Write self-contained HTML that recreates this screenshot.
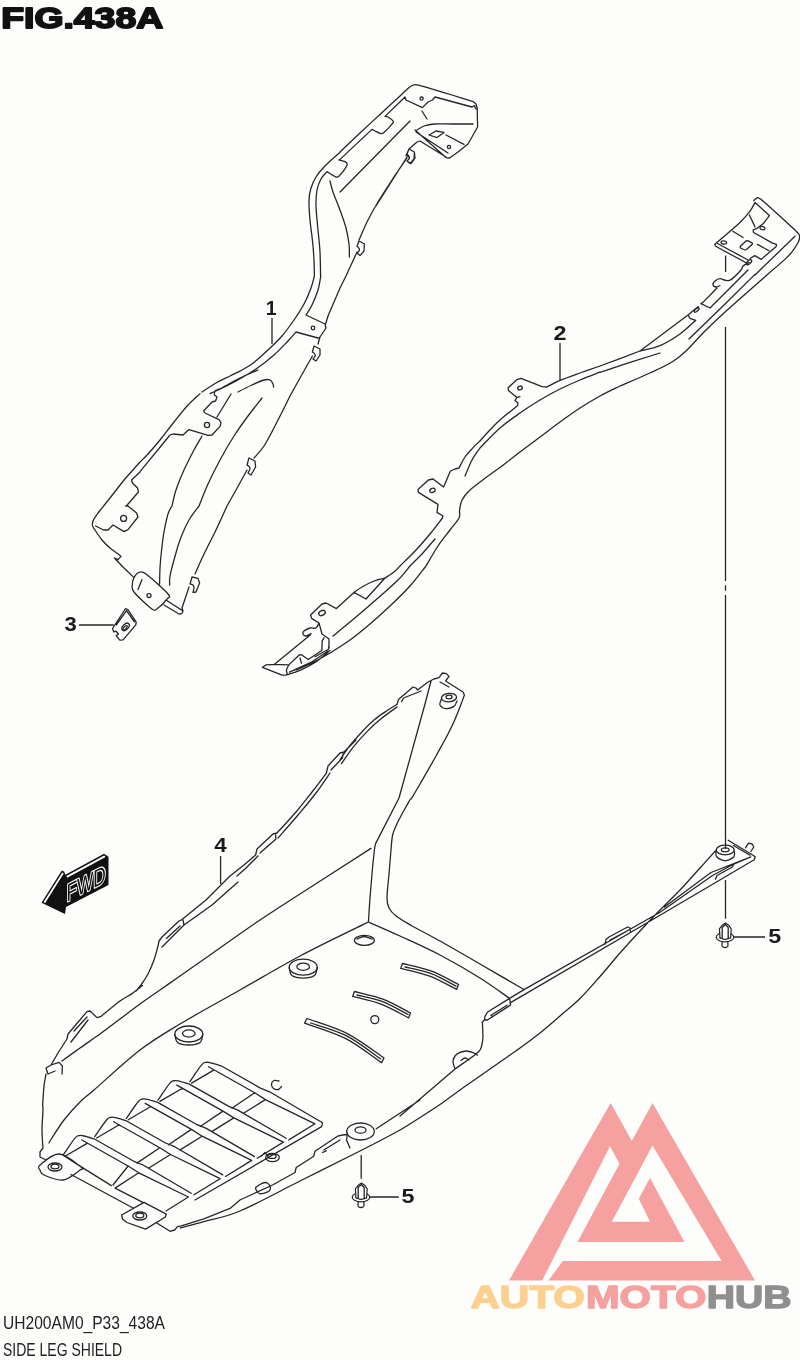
<!DOCTYPE html>
<html><head><meta charset="utf-8">
<style>
html,body{margin:0;padding:0;background:#fdfefc;}
svg{display:block;}
text{font-family:"Liberation Sans",sans-serif;}
.l{fill:none;stroke:#262626;stroke-width:1.3;stroke-linecap:round;stroke-linejoin:round;}
.w{fill:#fdfefc;stroke:#262626;stroke-width:1.2;stroke-linecap:round;stroke-linejoin:round;}
.t{fill:none;stroke:#262626;stroke-width:1.3;stroke-linecap:butt;stroke-linejoin:round;}
.n{font-weight:bold;font-size:16.5px;fill:#222;}
</style></head>
<body>
<svg width="800" height="1360" viewBox="0 0 800 1360" style="will-change:transform">
<rect width="800" height="1360" fill="#fdfefc"/>
<!-- LOGO -->
<g id="logo">
<path fill="#f4a19f" d="M610.7 1103 L631.8 1141 L652.5 1103 L755 1280.5 L548.4 1280.5 L562.8 1261 L721.6 1261 L652.5 1145.5 L611.8 1221.8 L650 1221.8 L638.8 1198.8 L650 1178 L684.5 1242 L577.5 1242 L619.5 1163.8 L610 1146.3 L542.2 1280.5 L509 1280.5 Z"/>
<g font-weight="bold" font-size="31.3" stroke-width="1.4" stroke-linejoin="round">
<text x="470.5" y="1308" textLength="114.5" lengthAdjust="spacingAndGlyphs" fill="#fcd08e" stroke="#fcd08e">AUTO</text>
<text x="585.9" y="1308" textLength="120.5" lengthAdjust="spacingAndGlyphs" fill="#f4a19f" stroke="#f4a19f">MOTO</text>
<text x="706.7" y="1308" textLength="84.8" lengthAdjust="spacingAndGlyphs" fill="#8f8f8f" stroke="#8f8f8f">HUB</text>
</g>
</g>
<!-- TITLE -->
<text x="1.2" y="27.8" font-weight="bold" font-size="29" textLength="162" lengthAdjust="spacingAndGlyphs" fill="#111" stroke="#111" stroke-width="1.8" stroke-linejoin="round">FIG.438A</text>
<!-- BOTTOM TEXT -->
<text x="3" y="1329.3" font-size="18" textLength="162" lengthAdjust="spacingAndGlyphs" fill="#222">UH200AM0_P33_438A</text>
<text x="3" y="1355.5" font-size="18" textLength="119" lengthAdjust="spacingAndGlyphs" fill="#222">SIDE LEG SHIELD</text>
<!-- FWD -->
<g id="fwd">
<path fill="#111" d="M41.5 902.8 L61.8 870.6 L64.3 871.8 L65.3 874.8 L104 853.8 L108.5 856.8 L108.5 885 L66 907 L65 914 Z"/>
<path fill="#fff" d="M43.6 901.9 L62.3 872.4 L63.7 873.4 L45 903.2 Z M66.3 876 L104.2 855.4 L105.6 856.9 L67.3 877.7 Z"/>
<text transform="matrix(1,-0.513,0,1,66.4,902)" x="0" y="0" font-size="24.5" textLength="39.5" lengthAdjust="spacingAndGlyphs" fill="#111" stroke="#fff" stroke-width="2.4" paint-order="stroke" stroke-linejoin="round">FWD</text>
</g>
<!-- PARTS -->
<g id="p1">
<circle class="l" cx="421.6" cy="98.6" r="1.6"/>
<circle class="l" cx="449.0" cy="147.0" r="1.6"/>
<circle class="l" cx="313.0" cy="328.0" r="1.8"/>
<circle class="l" cx="207.0" cy="425.0" r="2.6"/>
<circle class="l" cx="123.6" cy="518.4" r="3.0"/>
<circle class="l" cx="149.0" cy="595.6" r="2.0"/>
<path class="l" d="M340.0 152.0 C343.3 148.8 353.3 139.3 360.0 133.0 C366.7 126.7 373.3 120.6 380.0 114.4 C386.7 108.2 395.3 100.3 400.0 96.0 C404.7 91.7 406.0 90.1 408.0 88.4 C410.0 86.7 410.5 86.2 412.0 85.6 C413.5 85.0 414.0 84.3 417.0 84.8 C420.0 85.3 424.2 86.7 430.0 88.4 C435.8 90.1 444.8 92.8 452.0 95.0 C459.2 97.2 469.5 100.5 473.0 101.6 M473.0 101.6 L476.0 104.0 L477.2 108.0 L477.6 127.0 L468.0 144.0 L458.0 152.0 L449.6 158.0 L446.0 157.6 L415.0 130.0 M416.0 132.0 L448.0 153.0 M340.0 159.4 L372.0 129.4 M372.0 129.4 C372.5 129.7 373.5 130.3 375.0 131.0 C376.5 131.7 379.5 133.4 381.0 133.6 C382.5 133.8 382.1 134.1 384.0 132.4 C385.9 130.7 390.9 125.5 392.4 123.6 C393.9 121.7 393.7 122.1 393.0 121.0 C392.3 119.9 389.3 117.8 388.0 117.0 C386.7 116.2 385.5 116.5 385.0 116.4 M385.0 116.4 L405.0 97.0 L406.0 100.0 L422.4 107.6 L428.0 102.0 L432.4 100.0 L435.0 97.0 L472.0 107.0 L474.4 105.6 L476.0 109.0 M422.0 111.0 L427.0 119.0 M417.0 130.0 C418.2 129.3 421.2 127.0 424.0 126.0 C426.8 125.0 429.3 124.3 434.0 124.0 C438.7 123.7 445.5 124.0 452.0 124.0 C458.5 124.0 469.5 124.0 473.0 124.0 M429.0 135.0 L436.0 131.0 L444.0 132.4 L437.0 137.6Z M446.0 135.0 L464.0 144.4 M340.0 192.0 L410.0 121.0 M406.0 155.6 L409.0 149.0 L414.4 152.0 L415.0 158.0 L411.0 163.6 L407.0 161.0 M406.0 155.6 C406.4 155.7 407.9 155.7 408.4 156.2 C408.9 156.7 409.4 157.8 409.2 158.6 C409.0 159.4 407.4 160.6 407.0 161.0 M409.0 149.0 L417.0 142.0 L420.0 141.0 L446.0 157.0 M376.0 206.0 L407.0 157.0 M340.0 152.4 C337.3 154.8 328.0 162.9 324.0 167.0 C320.0 171.1 318.2 173.5 316.0 177.0 C313.8 180.5 312.2 184.2 311.0 188.0 C309.8 191.8 309.2 194.7 309.0 200.0 C308.8 205.3 309.4 213.3 310.0 220.0 C310.6 226.7 311.7 233.3 312.4 240.0 C313.1 246.7 313.7 254.0 314.0 260.0 C314.3 266.0 314.3 273.3 314.4 276.0 M340.0 159.4 L339.0 160.0 M339.0 160.0 C340.0 160.3 343.7 160.8 345.0 161.6 C346.3 162.4 347.8 162.8 347.0 165.0 C346.2 167.2 341.8 173.0 340.0 175.0 C338.2 177.0 338.2 177.6 336.0 177.0 C333.8 176.4 328.5 172.5 327.0 171.6 M327.0 171.6 C326.0 172.8 322.7 175.9 321.0 179.0 C319.3 182.1 317.8 185.5 317.0 190.0 C316.2 194.5 315.8 199.3 316.0 206.0 C316.2 212.7 317.3 222.3 318.0 230.0 C318.7 237.7 319.6 244.3 320.0 252.0 C320.4 259.7 320.5 272.0 320.6 276.0 M330.0 181.0 C330.5 182.8 331.3 187.2 333.0 192.0 C334.7 196.8 337.8 204.0 340.0 210.0 C342.2 216.0 344.5 222.3 346.0 228.0 C347.5 233.7 348.4 239.2 349.0 244.0 C349.6 248.8 349.3 254.8 349.4 257.0 M407.0 158.0 C404.5 161.7 396.8 172.7 392.0 180.0 C387.2 187.3 382.0 195.3 378.0 202.0 C374.0 208.7 371.2 213.7 368.0 220.0 C364.8 226.3 360.5 236.7 359.0 240.0 M407.0 154.0 L409.0 149.0 L414.4 152.0 L414.0 159.0 L410.0 163.6 L407.0 161.0 M407.0 154.0 C407.3 154.3 408.2 155.1 408.6 155.8 C409.0 156.5 409.7 157.3 409.4 158.2 C409.1 159.1 407.4 160.5 407.0 161.0 M357.0 246.0 L359.0 241.0 L364.4 244.0 L364.0 251.0 L360.0 255.6 L357.0 253.0 M357.0 246.0 C357.3 246.3 358.2 247.1 358.6 247.8 C359.0 248.5 359.7 249.3 359.4 250.2 C359.1 251.1 357.4 252.5 357.0 253.0 M357.0 252.0 L346.0 276.0 M314.4 276.0 C313.8 278.0 312.7 283.3 311.0 288.0 C309.3 292.7 306.8 298.7 304.0 304.0 C301.2 309.3 297.7 314.7 294.0 320.0 C290.3 325.3 286.3 331.0 282.0 336.0 C277.7 341.0 272.7 345.6 268.0 350.0 C263.3 354.4 258.3 359.1 254.0 362.4 C249.7 365.7 246.0 367.7 242.0 370.0 C238.0 372.3 234.3 373.8 230.0 376.0 C225.7 378.2 220.7 380.3 216.0 383.0 C211.3 385.7 204.3 390.5 202.0 392.0 M320.8 276.0 C320.3 278.3 319.5 285.2 318.0 290.0 C316.5 294.8 314.0 300.8 312.0 305.0 C310.0 309.2 307.0 313.3 306.0 315.0 M306.0 315.0 L325.0 324.0 L326.0 328.0 L320.0 337.0 L318.0 338.0 L296.0 332.0 M296.0 332.0 C294.7 333.5 291.7 337.2 288.0 341.0 C284.3 344.8 279.3 350.3 274.0 355.0 C268.7 359.7 262.3 364.7 256.0 369.0 C249.7 373.3 242.3 377.5 236.0 381.0 C229.7 384.5 222.3 387.9 218.0 390.0 C213.7 392.1 211.3 393.0 210.0 393.6 M346.0 276.0 L340.0 288.0 L328.0 316.0 L325.6 324.0 M320.0 337.0 L318.0 344.0 M312.4 352.0 L314.0 346.0 L320.0 349.0 L320.0 355.0 L316.0 361.0 L313.0 359.0 M312.4 352.0 C312.7 352.2 313.9 352.8 314.4 353.4 C314.9 354.0 315.4 354.9 315.2 355.8 C315.0 356.7 313.4 358.5 313.0 359.0 M312.4 356.0 L300.0 378.0 L290.0 396.0 M200.0 393.6 C198.0 395.5 192.3 400.3 188.0 405.0 C183.7 409.7 178.7 416.2 174.0 422.0 C169.3 427.8 164.3 434.7 160.0 440.0 C155.7 445.3 151.3 450.3 148.0 454.0 C144.7 457.7 141.3 460.7 140.0 462.0 M258.0 370.0 C255.0 371.3 245.3 375.4 240.0 378.0 C234.7 380.6 229.5 383.7 226.0 385.6 C222.5 387.5 220.2 388.8 219.0 389.4 M219.0 389.0 C218.3 389.3 215.8 390.0 215.0 391.0 C214.2 392.0 214.5 394.3 214.4 395.0 M214.4 395.0 L217.0 397.0 L215.6 401.0 L212.0 402.0 L203.6 411.0 L205.0 413.0 L219.0 419.6 L221.0 422.4 L220.0 426.4 L212.0 435.0 L208.0 435.4 L189.0 429.6 L183.0 435.0 L173.0 434.0 L170.0 435.0 L140.0 471.6 M231.0 394.0 L217.0 417.0 M202.0 436.0 C200.7 438.3 197.0 444.3 194.0 450.0 C191.0 455.7 187.0 463.3 184.0 470.0 C181.0 476.7 178.0 484.0 176.0 490.0 C174.0 496.0 172.7 503.3 172.0 506.0 M238.0 392.0 C240.3 390.8 247.7 387.0 252.0 385.0 C256.3 383.0 261.0 380.8 264.0 380.0 C267.0 379.2 268.5 379.3 270.0 380.0 C271.5 380.7 272.4 382.8 273.0 384.0 C273.6 385.2 273.5 386.5 273.6 387.0 M262.0 398.0 C259.7 401.0 252.7 409.7 248.0 416.0 C243.3 422.3 238.7 428.7 234.0 436.0 C229.3 443.3 224.3 452.0 220.0 460.0 C215.7 468.0 211.5 476.3 208.0 484.0 C204.5 491.7 200.5 502.3 199.0 506.0 M290.0 396.0 C287.7 400.7 280.3 415.7 276.0 424.0 C271.7 432.3 267.7 440.3 264.0 446.0 C260.3 451.7 255.7 456.0 254.0 458.0 M247.0 465.0 L249.0 458.0 L255.0 461.0 L255.6 467.0 L251.0 475.0 L248.0 473.0 M247.0 465.0 C247.4 465.3 248.7 465.9 249.2 466.6 C249.7 467.3 250.2 467.9 250.0 469.0 C249.8 470.1 248.3 472.3 248.0 473.0 M247.0 470.0 L236.0 490.0 L227.0 506.0 M140.0 462.0 L124.0 480.0 L110.0 498.0 L98.0 513.0 M98.0 513.0 C97.3 514.1 94.5 517.6 93.6 519.6 C92.7 521.6 92.2 523.3 92.4 525.0 C92.6 526.7 93.4 527.5 95.0 530.0 C96.6 532.5 99.5 537.0 102.0 540.0 C104.5 543.0 107.1 545.5 110.0 548.0 C112.9 550.5 117.8 553.8 119.4 555.0 M119.4 555.0 L121.0 556.4 L118.0 559.6 L114.4 558.0 L124.0 568.0 L134.0 577.6 M134.0 577.6 C135.1 575.7 137.0 573.0 139.0 572.4 C141.0 571.8 141.2 570.4 146.0 574.0 C150.8 577.6 164.5 589.8 168.0 594.0 C171.5 598.2 168.7 596.7 167.0 599.0 C165.3 601.3 160.5 606.3 158.0 608.0 C155.5 609.7 156.0 611.7 152.0 609.0 C148.0 606.3 137.3 596.2 134.0 592.0 C130.7 587.8 132.4 586.4 132.4 584.0 C132.4 581.6 132.9 579.5 134.0 577.6Z M140.0 472.0 L131.6 480.0 L132.4 483.0 L137.6 488.0 L138.4 492.0 L127.2 505.0 L125.6 506.0 L128.0 506.0 L136.6 513.0 L138.0 517.0 L128.0 529.6 L124.0 531.6 L113.0 525.0 L108.0 530.0 L103.6 530.0 L95.6 526.0 M172.0 506.0 C171.3 507.3 169.3 509.7 168.0 514.0 C166.7 518.3 165.1 526.0 164.0 532.0 C162.9 538.0 162.3 544.0 161.6 550.0 C160.9 556.0 160.3 562.3 160.0 568.0 C159.7 573.7 159.7 581.3 159.6 584.0 M199.0 506.0 C197.3 508.3 192.2 514.3 189.0 520.0 C185.8 525.7 182.5 533.3 180.0 540.0 C177.5 546.7 175.7 554.0 174.0 560.0 C172.3 566.0 170.7 571.8 170.0 576.0 C169.3 580.2 169.7 583.5 169.6 585.0 M227.0 506.0 C225.2 510.0 219.8 522.0 216.0 530.0 C212.2 538.0 207.5 546.7 204.0 554.0 C200.5 561.3 196.5 570.7 195.0 574.0 M190.0 584.0 L192.0 577.0 L198.0 578.4 L199.6 583.0 L196.0 592.0 L193.0 592.4 M190.0 584.0 C190.5 584.2 192.5 584.6 193.2 585.2 C193.9 585.8 194.0 586.4 194.0 587.6 C194.0 588.8 193.2 591.6 193.0 592.4 M189.0 587.0 L182.0 608.0 L183.0 611.0 L182.0 613.6 L179.0 614.0 L164.0 605.0 M166.0 600.0 L183.0 611.0 M142.0 579.6 L138.0 589.6"/>
<path class="t" d="M272.0 318.0 L272.0 344.0"/>
</g>
<g id="p2">
<ellipse class="l" cx="749.0" cy="262.2" rx="3.2" ry="1.6" transform="rotate(-40.0 749.0 262.2)"/>
<ellipse class="l" cx="762.5" cy="228.1" rx="2.5" ry="1.6" transform="rotate(10.0 762.5 228.1)"/>
<ellipse class="l" cx="723.8" cy="242.5" rx="2.8" ry="1.6" transform="rotate(10.0 723.8 242.5)"/>
<ellipse class="l" cx="696.6" cy="310.0" rx="3.0" ry="1.2" transform="rotate(-40.0 696.6 310.0)"/>
<ellipse class="l" cx="520.0" cy="388.0" rx="2.4" ry="1.8" transform="rotate(-20.0 520.0 388.0)"/>
<ellipse class="l" cx="432.4" cy="490.4" rx="2.8" ry="2.0" transform="rotate(-25.0 432.4 490.4)"/>
<ellipse class="l" cx="322.0" cy="613.0" rx="3.4" ry="2.4" transform="rotate(-25.0 322.0 613.0)"/>
<path class="l" d="M753.8 200.6 L757.5 197.5 L761.2 199.4 M761.2 199.4 C764.4 202.2 774.4 211.1 780.0 216.2 C785.6 221.4 791.9 227.0 795.0 230.0 C798.1 233.0 798.0 232.8 798.8 234.0 C799.5 235.2 799.7 236.1 799.6 237.5 C799.5 238.9 799.3 240.2 798.1 242.5 C796.9 244.8 794.5 248.6 792.5 251.2 C790.5 253.9 790.5 254.2 786.2 258.1 C782.0 262.1 770.1 272.2 766.9 275.0 M755.0 202.5 C754.2 204.0 752.3 208.1 750.0 211.2 C747.7 214.4 744.6 217.9 741.2 221.2 C737.9 224.6 734.4 227.4 730.0 231.2 C725.6 235.1 717.3 242.2 714.8 244.4 M714.8 244.4 L715.6 246.2 L745.6 262.5 M717.5 243.5 L748.1 260.0 M755.0 202.5 L769.4 215.6 L763.1 223.8 L757.5 228.1 L753.1 230.0 L753.5 232.5 L772.5 243.1 L776.5 244.4 L776.2 246.5 L761.2 259.4 L754.8 255.6 L750.0 258.5 M749.4 215.0 L755.0 226.9 M732.8 231.2 L743.1 237.5 M740.2 246.5 L746.0 241.0 L747.5 240.6 L752.2 242.8 L752.5 244.0 L746.5 249.5 L744.8 250.0 L740.5 248.0Z M757.5 244.4 L768.8 250.6 M795.0 236.2 L755.0 275.0 M749.0 262.4 C748.0 263.0 744.3 264.7 743.0 266.0 C741.7 267.3 743.0 267.7 741.0 270.0 C739.0 272.3 733.5 277.9 731.0 279.6 C728.5 281.3 727.8 280.6 726.0 280.4 C724.2 280.2 721.8 278.5 720.0 278.6 C718.2 278.7 716.2 279.9 715.0 281.0 C713.8 282.1 712.8 284.0 713.0 285.0 C713.2 286.0 714.8 286.9 716.0 287.0 C717.2 287.1 719.3 285.8 720.0 285.6 M717.0 288.0 L703.0 302.4 L701.0 303.6 L710.0 308.0 L748.0 270.0 M600.0 366.0 L620.0 358.6 L640.0 351.0 L664.0 333.0 L688.0 315.0 L694.0 310.0 L698.4 306.6 M688.0 315.0 L690.0 318.4 L695.6 320.4 M640.0 351.0 C643.3 350.1 653.3 348.4 660.0 345.6 C666.7 342.8 674.1 338.2 680.0 334.0 C685.9 329.8 693.0 322.7 695.6 320.4 M600.0 372.4 L630.0 362.4 L660.0 353.0 M689.0 339.0 L724.0 305.0 L755.0 274.4 M620.0 386.0 C625.0 383.8 641.3 377.0 650.0 373.0 C658.7 369.0 666.0 365.7 672.0 362.0 C678.0 358.3 680.7 356.0 686.0 351.0 C691.3 346.0 697.7 338.3 704.0 332.0 C710.3 325.7 713.5 322.5 724.0 313.0 C734.5 303.5 759.8 281.3 767.0 275.0 M600.0 366.0 C596.7 367.2 586.7 370.6 580.0 373.0 C573.3 375.4 565.5 378.1 560.0 380.4 C554.5 382.7 549.2 385.9 547.0 387.0 M547.0 387.0 L542.0 386.6 L521.0 378.4 L517.0 379.6 L508.0 388.0 L508.4 390.4 L517.0 397.4 L520.0 396.6 M517.0 397.4 L515.0 400.4 L518.0 403.0 L517.6 405.6 M517.6 405.6 C514.7 408.0 504.9 415.6 500.0 420.0 C495.1 424.4 491.3 428.5 488.0 432.0 C484.7 435.5 481.3 439.5 480.0 441.0 M600.0 372.2 C596.7 373.5 586.7 377.2 580.0 380.0 C573.3 382.8 566.7 385.7 560.0 389.0 C553.3 392.3 546.7 396.0 540.0 400.0 C533.3 404.0 526.7 408.3 520.0 413.0 C513.3 417.7 506.7 422.2 500.0 428.0 C493.3 433.8 483.3 444.7 480.0 448.0 M620.0 386.0 C616.7 387.7 606.7 392.3 600.0 396.0 C593.3 399.7 586.7 403.7 580.0 408.0 C573.3 412.3 566.7 417.2 560.0 422.0 C553.3 426.8 546.7 432.0 540.0 437.0 C533.3 442.0 526.3 447.2 520.0 452.0 C513.7 456.8 505.0 463.7 502.0 466.0 M480.4 440.4 C479.1 441.7 475.0 445.6 472.4 448.4 C469.8 451.2 467.2 453.7 465.0 457.0 C462.8 460.3 460.0 466.2 459.0 468.0 M459.0 468.0 L455.0 469.0 L450.4 471.0 L443.6 487.0 L433.0 479.0 L428.4 480.0 L418.0 489.6 L418.4 492.4 L438.0 504.4 L437.0 512.4 L443.0 516.0 L442.4 518.0 M442.4 518.0 C440.3 520.7 434.4 528.7 430.0 534.0 C425.6 539.3 421.0 544.7 416.0 550.0 C411.0 555.3 402.7 563.3 400.0 566.0 M480.0 448.0 C478.7 450.0 474.5 455.3 472.0 460.0 C469.5 464.7 466.2 473.3 465.0 476.0 M435.0 539.0 L422.0 554.0 L410.0 566.0 M502.0 466.0 C499.3 467.9 491.3 473.6 486.0 477.6 C480.7 481.6 474.0 486.3 470.0 490.0 C466.0 493.7 463.7 496.7 462.0 500.0 C460.3 503.3 460.1 507.0 459.6 510.0 C459.1 513.0 460.6 514.7 459.0 518.0 C457.4 521.3 453.5 525.3 450.0 530.0 C446.5 534.7 442.0 540.0 438.0 546.0 C434.0 552.0 428.0 562.7 426.0 566.0 M400.0 566.0 C399.0 567.0 396.5 570.0 394.0 572.0 C391.5 574.0 386.5 577.0 385.0 578.0 M385.0 578.0 C383.2 578.5 377.8 579.5 374.0 581.0 C370.2 582.5 365.3 585.1 362.0 587.0 C358.7 588.9 355.3 591.5 354.0 592.4 M385.0 578.0 L366.0 599.0 L354.0 592.4 L336.4 608.6 L326.0 603.0 L322.0 604.0 L310.6 615.0 L311.6 618.4 L319.0 623.0 L322.0 634.0 L329.0 639.0 L329.0 648.0 M319.0 623.0 C318.5 623.8 317.5 627.2 316.0 628.0 C314.5 628.8 312.0 627.5 310.0 628.0 C308.0 628.5 305.2 630.0 304.0 631.0 C302.8 632.0 302.7 633.2 303.0 634.0 C303.3 634.8 304.7 636.1 306.0 636.0 C307.3 635.9 310.2 634.0 311.0 633.6 M410.0 566.0 C408.0 568.3 403.3 574.7 398.0 580.0 C392.7 585.3 385.0 591.8 378.0 598.0 C371.0 604.2 363.5 610.7 356.0 617.0 C348.5 623.3 336.8 632.8 333.0 636.0 M426.0 566.0 C423.3 569.3 416.0 579.3 410.0 586.0 C404.0 592.7 396.7 599.7 390.0 606.0 C383.3 612.3 376.7 618.3 370.0 624.0 C363.3 629.7 356.7 635.2 350.0 640.0 C343.3 644.8 336.7 649.0 330.0 653.0 C323.3 657.0 315.7 661.2 310.0 664.0 C304.3 666.8 298.3 669.0 296.0 670.0 M310.5 634.8 L274.5 664.3 L266.2 664.8 L262.5 667.3 L282.0 675.2 L285.8 675.2 M285.8 675.2 C288.1 674.4 295.1 672.4 300.0 670.3 C304.9 668.2 310.0 665.8 315.0 662.5 C320.0 659.2 327.5 652.5 330.0 650.5 M274.5 664.3 L288.8 664.9 L299.2 655.0 L301.5 654.7 L308.2 659.5 L321.8 650.5 L322.2 640.8 L324.0 637.8 M288.8 664.9 C288.4 665.8 286.8 668.5 286.5 670.0 C286.2 671.5 287.1 673.1 287.2 673.8 M300.0 658.0 L301.5 663.2 M315.0 656.8 L328.5 649.3 L329.2 642.2 M289.5 672.2 L312.0 661.8 L327.8 651.2"/>
<path class="t" d="M725.6 255.6 L725.6 271.9 M560.0 343.0 L560.0 380.0"/>
</g>
<g id="p3">
<ellipse class="l" cx="125.6" cy="626.9" rx="4.5" ry="2.6" transform="rotate(-45.0 125.6 626.9)"/>
<ellipse class="l" cx="125.0" cy="627.8" rx="2.8" ry="1.2" transform="rotate(-45.0 125.0 627.8)"/>
<path class="l" d="M112.5 628.5 L125.6 608.5 L128.1 609.8 L136.2 622.2 L135.8 624.8 L123.1 639.8 L119.8 640.2 L116.2 635.6 L118.5 634.0 L116.0 631.2 L113.8 631.9Z M116.2 625.0 L126.5 610.6 L134.4 621.9"/>
<path class="t" d="M79.0 625.0 L113.8 625.0"/>
</g>
<g id="p4">
<ellipse class="l" cx="449.0" cy="697.6" rx="7.6" ry="4.2" transform="rotate(-5.0 449.0 697.6)"/>
<ellipse class="l" cx="449.0" cy="697.0" rx="3.0" ry="1.8" transform="rotate(-5.0 449.0 697.0)"/>
<ellipse class="l" cx="55.0" cy="1167.0" rx="7.0" ry="4.0" transform="rotate(0.0 55.0 1167.0)"/>
<ellipse class="l" cx="55.0" cy="1166.5" rx="4.0" ry="2.3" transform="rotate(0.0 55.0 1166.5)"/>
<ellipse class="l" cx="139.8" cy="1216.0" rx="7.0" ry="4.0" transform="rotate(0.0 139.8 1216.0)"/>
<ellipse class="l" cx="139.8" cy="1215.5" rx="4.0" ry="2.3" transform="rotate(0.0 139.8 1215.5)"/>
<ellipse class="l" cx="725.2" cy="850.0" rx="9.0" ry="4.8" transform="rotate(0.0 725.2 850.0)"/>
<ellipse class="l" cx="725.2" cy="849.7" rx="3.9" ry="1.9" transform="rotate(0.0 725.2 849.7)"/>
<ellipse class="l" cx="303.2" cy="967.2" rx="14.0" ry="8.0" transform="rotate(0.0 303.2 967.2)"/>
<ellipse class="l" cx="303.2" cy="966.7" rx="6.3" ry="3.6" transform="rotate(0.0 303.2 966.7)"/>
<ellipse class="l" cx="188.8" cy="1034.0" rx="14.0" ry="8.0" transform="rotate(0.0 188.8 1034.0)"/>
<ellipse class="l" cx="188.8" cy="1033.5" rx="6.3" ry="3.6" transform="rotate(0.0 188.8 1033.5)"/>
<ellipse class="l" cx="364.4" cy="940.4" rx="10.0" ry="5.0" transform="rotate(0.0 364.4 940.4)"/>
<circle class="l" cx="374.8" cy="1019.6" r="4.0"/>
<ellipse class="l" cx="360.5" cy="1131.5" rx="13.8" ry="8.5" transform="rotate(0.0 360.5 1131.5)"/>
<ellipse class="l" cx="360.5" cy="1130.0" rx="5.5" ry="3.2" transform="rotate(0.0 360.5 1130.0)"/>
<ellipse class="l" cx="272.5" cy="1157.5" rx="6.8" ry="4.2" transform="rotate(0.0 272.5 1157.5)"/>
<ellipse class="l" cx="272.0" cy="1156.2" rx="4.2" ry="2.2" transform="rotate(0.0 272.0 1156.2)"/>
<path class="l" d="M340.0 760.0 C341.3 758.0 344.7 752.3 348.0 748.0 C351.3 743.7 355.7 738.7 360.0 734.0 C364.3 729.3 369.3 724.0 374.0 720.0 C378.7 716.0 384.2 712.6 388.0 710.0 C391.8 707.4 395.5 705.3 397.0 704.4 M397.0 704.4 L398.4 699.6 L413.0 687.0 L416.0 688.0 L417.6 690.0 L428.0 682.0 L434.0 679.0 L439.0 677.6 L442.4 673.0 L446.4 673.6 L449.0 676.4 L445.6 681.0 L463.0 692.0 L464.4 695.0 L463.0 699.0 M463.0 699.0 C461.2 703.5 456.5 716.5 452.0 726.0 C447.5 735.5 441.3 746.3 436.0 756.0 C430.7 765.7 424.1 776.8 420.0 784.0 C415.9 791.2 412.7 796.5 411.2 799.0 M341.6 763.6 C343.5 760.9 348.8 752.7 353.0 747.4 C357.2 742.1 362.3 736.4 367.0 731.6 C371.7 726.8 376.0 722.9 381.0 718.8 C386.0 714.7 394.3 709.0 397.0 707.0 M401.6 701.6 L403.6 698.0 L421.0 691.0 M440.0 682.0 L449.0 687.0 M431.0 681.0 L425.0 704.0 L399.0 798.0 M441.4 699.0 C441.2 700.0 439.2 703.4 440.0 705.0 C440.8 706.6 443.7 708.4 446.0 708.6 C448.3 708.8 452.2 707.7 454.0 706.4 C455.8 705.1 456.5 701.9 457.0 701.0 M356.0 740.0 L344.0 752.0 L340.0 753.0 L328.0 766.0 L326.4 773.0 M326.4 773.0 C324.0 776.2 317.1 785.5 312.0 792.0 C306.9 798.5 301.8 805.2 296.0 812.0 C290.2 818.8 280.2 829.5 277.0 833.0 M277.0 833.0 L273.0 834.0 L257.0 849.0 L255.6 855.0 L244.0 865.0 L230.0 876.0 M343.0 754.0 L342.4 758.0 L331.0 770.0 M330.0 773.0 C327.7 776.3 321.3 786.0 316.0 793.0 C310.7 800.0 304.3 807.5 298.0 815.0 C291.7 822.5 281.3 834.2 278.0 838.0 M275.6 835.0 L276.0 839.0 L260.0 853.0 M258.0 856.0 L246.0 868.0 L237.0 876.0 M230.0 876.0 L206.0 900.0 L182.0 919.6 L179.0 921.0 L162.0 937.0 L159.0 941.0 L158.0 946.0 M158.0 946.0 C157.3 948.3 155.7 955.3 154.0 960.0 C152.3 964.7 150.2 969.8 148.0 974.0 C145.8 978.2 143.0 982.2 141.0 985.0 C139.0 987.8 136.8 990.0 136.0 991.0 M238.0 882.0 L212.0 905.0 L184.0 925.0 L162.0 947.0 M183.0 920.0 L184.0 925.0 M166.4 938.4 L180.0 926.0 M142.4 985.6 C140.7 986.9 135.7 991.0 132.0 993.6 C128.3 996.2 125.2 997.2 120.0 1001.0 C114.8 1004.8 104.2 1013.8 101.0 1016.4 M101.0 1016.4 L97.0 1017.6 L90.0 1011.0 L87.0 1011.6 L68.0 1034.0 L67.0 1039.0 L58.0 1053.0 L51.0 1065.0 M74.0 1031.0 L87.0 1017.0 M71.0 1042.0 L88.0 1020.0 M180.0 976.0 C176.7 978.3 166.7 985.3 160.0 990.0 C153.3 994.7 146.7 999.2 140.0 1004.0 C133.3 1008.8 126.7 1014.0 120.0 1019.0 C113.3 1024.0 106.7 1029.2 100.0 1034.0 C93.3 1038.8 86.3 1043.5 80.0 1048.0 C73.7 1052.5 65.0 1058.8 62.0 1061.0 M51.0 1065.0 L46.0 1068.0 L48.0 1074.0 L55.0 1071.0 M51.0 1065.0 L59.0 1062.4 L62.4 1066.0 L62.0 1074.0 M46.0 1074.0 C45.7 1076.0 44.6 1080.7 44.0 1086.0 C43.4 1091.3 42.8 1102.7 42.6 1106.0 M63.1 1155.0 C65.1 1152.2 72.3 1141.3 75.0 1138.1 C77.7 1134.9 77.9 1135.9 79.4 1135.6 C80.9 1135.2 81.5 1135.4 84.0 1136.0 C86.5 1136.6 92.7 1138.5 94.4 1139.0 M65.0 1156.3 L87.5 1143.1 M81.9 1140.0 L128.1 1166.0 M94.4 1139.0 L133.8 1161.3 M138.8 1172.8 L188.4 1197.0 M143.0 1165.0 L191.2 1193.2 M128.1 1166.0 L113.0 1185.0 M138.8 1172.8 L115.0 1188.1 M188.4 1197.0 L166.0 1211.0 M133.8 1161.3 L143.0 1165.0 M128.1 1166.0 L138.8 1172.8 M94.8 1136.7 C96.7 1133.9 103.9 1123.0 106.7 1119.8 C109.4 1116.6 109.6 1117.6 111.1 1117.3 C112.6 1117.0 113.2 1117.1 115.7 1117.7 C118.2 1118.3 124.3 1120.2 126.1 1120.7 M96.7 1138.0 L119.2 1124.8 M113.6 1121.7 L159.8 1147.7 M126.1 1120.7 L165.5 1143.0 M170.5 1154.5 L220.1 1178.7 M174.7 1146.7 L222.8 1174.9 M159.8 1147.7 L136.9 1163.1 M170.5 1154.5 L148.5 1168.2 M220.1 1178.7 L193.9 1194.8 M165.5 1143.0 L174.7 1146.7 M159.8 1147.7 L170.5 1154.5 M126.4 1118.4 C128.4 1115.6 135.6 1104.7 138.3 1101.5 C141.0 1098.3 141.2 1099.3 142.7 1099.0 C144.2 1098.7 144.8 1098.8 147.3 1099.4 C149.8 1100.0 156.0 1101.9 157.7 1102.4 M128.3 1119.7 L150.8 1106.5 M145.2 1103.4 L191.4 1129.4 M157.7 1102.4 L197.1 1124.7 M202.1 1136.2 L251.7 1160.4 M206.3 1128.4 L254.5 1156.6 M191.4 1129.4 L168.6 1144.8 M202.1 1136.2 L180.2 1149.9 M251.7 1160.4 L225.5 1176.5 M197.1 1124.7 L206.3 1128.4 M191.4 1129.4 L202.1 1136.2 M158.0 1100.1 C160.0 1097.3 167.2 1086.4 169.9 1083.2 C172.7 1080.0 172.8 1081.0 174.3 1080.7 C175.8 1080.3 176.4 1080.5 178.9 1081.1 C181.4 1081.7 187.6 1083.6 189.3 1084.1 M159.9 1101.4 L182.4 1088.2 M176.8 1085.1 L223.0 1111.1 M189.3 1084.1 L228.8 1106.4 M233.8 1117.9 L283.4 1142.1 M237.9 1110.1 L286.1 1138.3 M223.0 1111.1 L200.2 1126.5 M233.8 1117.9 L211.8 1131.6 M283.4 1142.1 L257.2 1158.2 M228.8 1106.4 L237.9 1110.1 M223.0 1111.1 L233.8 1117.9 M189.7 1081.8 C191.7 1079.0 198.9 1068.1 201.6 1064.9 C204.3 1061.7 204.5 1062.7 206.0 1062.4 C207.5 1062.0 208.1 1062.2 210.6 1062.8 C213.1 1063.4 219.3 1065.3 221.0 1065.8 M191.6 1083.1 L214.1 1069.9 M208.5 1066.8 L254.7 1092.8 M221.0 1065.8 L260.4 1088.1 M265.4 1099.6 L315.0 1123.8 M269.6 1091.8 L317.8 1120.0 M254.7 1092.8 L231.9 1108.2 M265.4 1099.6 L243.5 1113.3 M315.0 1123.8 L288.8 1139.9 M260.4 1088.1 L269.6 1091.8 M254.7 1092.8 L265.4 1099.6 M317.8 1120.0 L322.5 1122.8 L321.6 1126.6 L195.0 1200.0 M63.8 1155.6 L81.3 1166.9 L111.3 1185.6 M115.0 1188.1 L143.8 1202.8 M71.0 1174.5 L133.0 1208.0 M40.0 1165.0 C43.2 1162.3 52.2 1153.7 59.0 1154.0 C65.8 1154.3 77.5 1164.3 81.0 1167.0 C84.5 1169.7 83.0 1167.8 80.0 1170.0 C77.0 1172.2 69.0 1179.2 63.0 1180.0 C57.0 1180.8 47.8 1176.7 44.0 1175.0 C40.2 1173.3 40.7 1171.7 40.0 1170.0 C39.3 1168.3 36.8 1167.7 40.0 1165.0Z M121.6 1215.0 L144.0 1202.4 L166.3 1214.1 L165.3 1217.0 L145.6 1229.1 L126.9 1222.5 L122.5 1219.0Z M180.0 976.0 C184.2 973.1 191.7 967.8 205.0 958.5 C218.3 949.2 239.5 933.8 260.0 920.0 C280.5 906.2 309.5 887.9 328.0 876.0 C346.5 864.1 363.8 853.0 371.0 848.4 M42.6 1106.0 C42.7 1106.7 43.1 1106.0 43.0 1110.0 C42.9 1114.0 42.0 1123.7 42.0 1130.0 C42.0 1136.3 42.8 1145.0 43.0 1148.0 M43.0 1148.0 L40.0 1152.0 L40.0 1157.0 L46.0 1160.0 M365.0 923.6 C354.2 929.0 320.8 944.9 300.0 956.0 C279.2 967.1 260.0 978.7 240.0 990.0 C220.0 1001.3 196.7 1014.0 180.0 1024.0 C163.3 1034.0 154.3 1039.0 140.0 1050.0 C125.7 1061.0 104.0 1081.3 94.0 1090.0 C84.0 1098.7 85.0 1097.0 80.0 1102.0 C75.0 1107.0 68.7 1114.0 64.0 1120.0 C59.3 1126.0 54.5 1134.2 52.0 1138.0 C49.5 1141.8 49.5 1142.2 49.0 1143.0 M399.0 798.0 L375.6 843.6 M375.6 843.6 C375.4 844.7 375.0 844.9 374.4 850.0 C373.8 855.1 372.7 866.0 372.0 874.0 C371.3 882.0 370.6 890.0 370.0 898.0 C369.4 906.0 368.7 918.0 368.4 922.0 M410.4 799.0 C409.3 801.0 405.9 806.7 403.6 811.0 C401.3 815.3 398.2 821.0 396.4 825.0 C394.6 829.0 393.5 830.8 392.6 835.0 C391.7 839.2 391.6 843.5 391.0 850.0 C390.4 856.5 389.7 866.0 389.0 874.0 C388.3 882.0 387.0 892.3 387.0 898.0 C387.0 903.7 387.5 905.0 389.0 908.0 C390.5 911.0 392.2 913.0 396.0 916.0 C399.8 919.0 409.3 924.3 412.0 926.0 M365.0 923.6 L368.4 922.0 M368.4 922.0 C373.7 924.3 388.1 930.5 400.0 936.0 C411.9 941.5 426.7 948.0 440.0 955.0 C453.3 962.0 468.5 970.8 480.0 978.0 C491.5 985.2 504.2 994.7 509.0 998.0 M412.0 926.0 C416.7 928.5 428.7 934.7 440.0 941.0 C451.3 947.3 466.0 955.9 480.0 964.0 C494.0 972.1 516.7 985.2 524.0 989.5 M524.0 989.6 L509.6 998.4 L487.6 1012.0 L485.0 1016.4 L484.4 1020.0 L482.0 1022.4 M511.0 1002.4 L510.0 1004.0 M509.6 998.4 L510.6 1005.0 L487.4 1020.0 L484.4 1020.0 M492.4 1016.4 L491.0 1015.2 L507.0 1005.2 M482.4 1022.0 L483.0 1038.0 M483.0 1038.0 C482.7 1039.7 482.2 1045.3 481.0 1048.0 C479.8 1050.7 480.3 1050.5 476.0 1054.0 C471.7 1057.5 458.5 1066.5 455.0 1069.0 M455.0 1069.0 L420.0 1099.0 L400.0 1116.0 M455.0 1069.0 C454.7 1067.7 452.7 1063.5 453.0 1061.0 C453.3 1058.5 454.8 1055.7 457.0 1054.0 C459.2 1052.3 463.2 1051.2 466.0 1051.0 C468.8 1050.8 472.1 1052.3 474.0 1053.0 C475.9 1053.7 476.8 1054.8 477.4 1055.2 M461.0 1060.4 C461.7 1060.0 463.7 1058.1 465.0 1058.0 C466.3 1057.9 468.3 1059.7 469.0 1060.0 M715.5 850.8 C712.9 853.7 705.9 861.5 700.0 868.0 C694.1 874.5 686.7 883.0 680.0 890.0 C673.3 897.0 666.7 903.2 660.0 910.0 C653.3 916.8 646.7 923.8 640.0 931.0 C633.3 938.2 626.7 945.4 620.0 953.0 C613.3 960.6 606.7 968.9 600.0 976.5 C593.3 984.1 586.7 991.9 580.0 998.5 C573.3 1005.1 566.7 1010.2 560.0 1016.0 C553.3 1021.8 546.7 1027.7 540.0 1033.0 C533.3 1038.3 526.7 1043.2 520.0 1048.0 C513.3 1052.8 506.7 1057.3 500.0 1062.0 C493.3 1066.7 486.7 1071.3 480.0 1076.0 C473.3 1080.7 466.7 1085.2 460.0 1090.0 C453.3 1094.8 446.7 1099.9 440.0 1104.5 C433.3 1109.1 426.7 1113.2 420.0 1117.5 C413.3 1121.8 410.0 1124.4 400.0 1130.0 C390.0 1135.6 376.7 1142.5 360.0 1151.0 C343.3 1159.5 320.0 1171.0 300.0 1181.0 C280.0 1191.0 256.0 1204.2 240.0 1211.0 C224.0 1217.8 213.8 1218.8 203.8 1221.6 C193.9 1224.4 184.2 1226.9 180.3 1228.0 M605.0 944.0 L606.0 939.6 L609.0 937.0 L627.6 927.0 L630.0 928.0 L630.4 931.2 M610.0 940.0 L626.0 931.6 M728.2 840.2 L751.8 854.5 L755.2 856.8 L754.2 859.8 M754.2 859.8 L660.0 915.2 L511.0 1002.4 M733.5 845.5 L750.0 855.2 M745.5 847.8 L748.5 843.2 L752.2 844.0 L753.8 847.0 L750.8 851.5 M750.8 856.8 L732.0 865.0 L712.5 875.5 L660.0 912.2 M660.0 912.3 L524.0 989.6 M747.8 858.2 L711.0 872.5 L664.5 907.0 M715.5 879.2 L717.0 875.5 L732.0 867.2 L733.5 865.0 M716.2 850.8 C716.3 851.8 715.2 855.1 716.7 856.8 C718.2 858.4 722.4 860.8 725.2 860.8 C728.1 860.8 732.3 858.4 733.8 856.8 C735.3 855.1 734.2 851.8 734.2 850.8 M289.2 967.7 C289.7 969.0 289.7 973.9 292.0 975.6 C294.3 977.4 299.5 978.2 303.2 978.2 C306.9 978.2 312.1 977.4 314.4 975.6 C316.7 973.9 316.7 969.0 317.2 967.7 M174.8 1034.5 C175.3 1035.8 175.3 1040.7 177.6 1042.4 C179.9 1044.2 185.1 1045.0 188.8 1045.0 C192.5 1045.0 197.7 1044.2 200.0 1042.4 C202.3 1040.7 202.3 1035.8 202.8 1034.5 M357.0 939.0 C358.2 938.6 361.5 936.5 364.0 936.5 C366.5 936.5 370.7 938.6 372.0 939.0 M279.0 1081.0 C278.2 1080.9 275.2 1080.0 274.0 1080.5 C272.8 1081.0 271.6 1082.7 271.5 1084.0 C271.4 1085.3 272.3 1087.6 273.5 1088.5 C274.7 1089.4 277.2 1089.8 278.5 1089.5 C279.8 1089.2 281.0 1087.0 281.5 1086.5 M402.5 963.5 C407.3 964.8 422.2 967.7 431.6 971.2 C440.9 974.7 454.0 982.3 458.5 984.5 M400.7 968.4 C405.5 969.7 420.4 972.6 429.7 976.1 C439.1 979.6 452.2 987.2 456.7 989.4 M402.5 963.5 L400.7 968.4 M458.5 984.5 L456.7 989.4 M405.0 967.0 C409.3 968.0 422.2 970.2 430.7 973.4 C439.2 976.6 451.8 983.9 456.0 986.1 M354.5 991.5 C359.3 992.8 374.2 995.9 383.6 999.4 C392.9 1003.0 406.0 1010.7 410.5 1013.0 M352.6 996.4 C357.5 997.7 372.4 1000.7 381.7 1004.3 C391.0 1007.9 404.1 1015.6 408.6 1017.9 M354.5 991.5 L352.6 996.4 M410.5 1013.0 L408.6 1017.9 M357.0 995.0 C361.3 996.1 374.2 998.4 382.7 1001.6 C391.2 1004.9 403.8 1012.4 408.0 1014.5 M307.0 1018.5 C313.8 1021.1 334.9 1027.2 347.8 1033.8 C360.6 1040.4 378.0 1054.0 384.0 1058.0 M304.6 1023.1 C311.4 1025.7 332.6 1031.8 345.4 1038.4 C358.2 1045.0 375.6 1058.6 381.6 1062.6 M307.0 1018.5 L304.6 1023.1 M384.0 1058.0 L381.6 1062.6 M310.6 1023.0 C316.6 1025.1 335.0 1029.9 346.7 1035.9 C358.4 1041.9 375.0 1055.1 380.6 1058.9 M420.0 1100.0 L376.2 1128.8 M347.5 1133.0 L346.5 1140.0 L350.0 1148.0 M347.0 1134.5 L342.5 1135.0 L337.5 1136.2 L322.5 1146.2 L315.0 1151.2 L313.8 1156.2 L296.2 1167.5 L295.0 1172.5 L272.5 1185.0 L240.0 1200.0 M323.8 1150.0 L340.0 1140.0 M322.5 1152.5 L326.2 1150.8 M261.2 1156.2 L265.0 1152.5 L267.5 1155.5 M256.2 1187.0 C257.7 1185.7 262.7 1182.6 265.0 1182.5 C267.3 1182.4 269.4 1184.8 270.0 1186.2 C270.6 1187.7 270.4 1190.0 268.8 1191.2 C267.1 1192.5 262.0 1193.9 260.0 1193.8 C258.0 1193.6 257.1 1191.6 256.5 1190.5 C255.9 1189.4 254.8 1188.3 256.2 1187.0Z M156.0 1222.5 L170.0 1231.3 L174.7 1230.0 L177.5 1226.6 L181.3 1225.9 L203.8 1218.8 L230.0 1208.4 L240.0 1200.0"/>
<path class="t" d="M220.6 856.0 L220.6 884.0 M361.2 1155.0 L361.2 1178.8 M370.0 1197.0 L398.8 1197.0"/>
</g>
<g id="p5">
<ellipse class="w" cx="725.0" cy="937.2" rx="8.8" ry="4.6" transform="rotate(0.0 725.0 937.2)"/>
<ellipse class="w" cx="361.0" cy="1197.2" rx="8.8" ry="4.6" transform="rotate(0.0 361.0 1197.2)"/>
<path class="w" d="M720.0 937.8 L719.4 928.8 L721.9 925.6 L725.4 923.1 L729.0 925.6 L731.2 928.8 L730.6 937.8 M356.0 1197.8 L355.4 1188.8 L357.9 1185.6 L361.4 1183.1 L365.0 1185.6 L367.2 1188.8 L366.6 1197.8"/>
<path class="l" d="M720.0 937.8 C720.8 938.0 723.2 939.4 725.0 939.4 C726.8 939.4 729.7 938.0 730.6 937.8 M722.2 927.8 L722.2 938.2 M728.2 927.8 L728.2 938.8 M722.0 927.5 L725.4 924.5 L728.2 927.5 M722.2 942.0 C722.2 942.7 721.8 945.3 722.2 946.2 C722.7 947.2 724.1 947.5 725.0 947.5 C725.9 947.5 727.3 947.2 727.8 946.2 C728.2 945.3 727.8 942.7 727.8 942.0 M356.0 1197.8 C356.8 1198.0 359.2 1199.4 361.0 1199.4 C362.8 1199.4 365.7 1198.0 366.6 1197.8 M358.2 1187.8 L358.2 1198.2 M364.2 1187.8 L364.2 1198.8 M358.0 1187.5 L361.4 1184.5 L364.2 1187.5 M358.2 1202.0 C358.2 1202.7 357.8 1205.3 358.2 1206.2 C358.7 1207.2 360.1 1207.5 361.0 1207.5 C361.9 1207.5 363.3 1207.2 363.8 1206.2 C364.2 1205.3 363.8 1202.7 363.8 1202.0"/>
</g>
<g id="labels" font-weight="bold" font-size="19.5" fill="#1a1a1a" text-anchor="middle">
<text x="271.3" y="315.3">1</text>
<text x="560" y="340.2" textLength="13" lengthAdjust="spacingAndGlyphs">2</text>
<text x="70.6" y="630.8" textLength="12.3" lengthAdjust="spacingAndGlyphs">3</text>
<text x="220.5" y="852.2" textLength="12.5" lengthAdjust="spacingAndGlyphs">4</text>
<text x="774.7" y="943.3" textLength="13" lengthAdjust="spacingAndGlyphs">5</text>
<text x="408" y="1202.8" textLength="13" lengthAdjust="spacingAndGlyphs">5</text>
</g>
<g id="leaders" class="t">
<path class="t" d="M725.5 327 V581 M725.5 585.3 V590.7 M725.5 595 V849"/>
<path class="t" d="M725.5 880 V918.8 M733.8 937 H765"/>
</g>
</svg>
</body></html>
